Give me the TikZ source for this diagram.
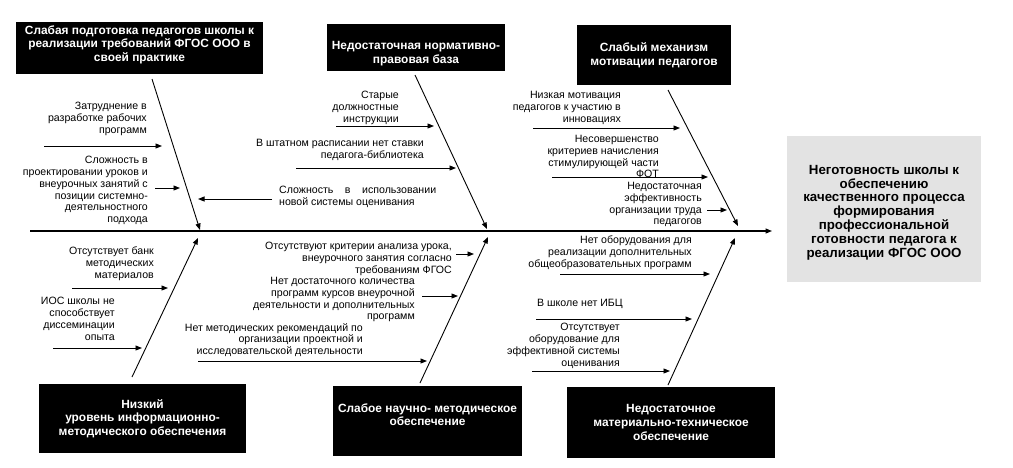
\documentclass[tikz,border=0pt]{standalone}
\usepackage{fontspec}
\setmainfont{Liberation Sans}
\usetikzlibrary{arrows.meta}
\begin{document}
\begin{tikzpicture}[x=1pt,y=-1pt,
  causebox/.style={fill=black,text=white,font=\fontsize{11.9}{13.6}\selectfont\bfseries,align=center,inner sep=0pt},
  effectbox/.style={fill=gray!22,text=black,font=\fontsize{13.3}{13.8}\selectfont\bfseries,align=center,inner sep=0pt,minimum width=194pt,minimum height=146pt},
  lbl/.style={font=\fontsize{10.6}{11.8}\selectfont,align=right,inner sep=0pt,anchor=north east},
  lbll/.style={font=\fontsize{10.6}{11.8}\selectfont,align=left,inner sep=0pt,anchor=north west},
  tip/.style={-{Triangle[length=6.5pt,width=5pt]}},
  spine/.style={tip,line width=1.3pt},
  bone/.style={tip,line width=0.9pt},
  sub/.style={tip,line width=0.9pt}]
\useasboundingbox (0,0) rectangle (1013,467);

% cause boxes
\node[causebox,minimum width=247pt,minimum height=52pt] (tl) at (139.5,48) {Слабая подготовка педагогов школы к\\реализации требований ФГОС ООО в\\своей практике\rule[-9pt]{0pt}{1pt}};
\node[causebox,minimum width=178pt,minimum height=47pt] (tm) at (416,47.5) {\rule{0pt}{21pt}Недостаточная нормативно-\\правовая база};
\node[causebox,minimum width=154pt,minimum height=60pt] (tr) at (654,55) {Слабый механизм\\мотивации педагогов};
\node[causebox,minimum width=207pt,minimum height=69pt] (bl) at (142.5,418.5) {Низкий\\уровень информационно-\\методического обеспечения};
\node[causebox,minimum width=189pt,minimum height=70pt] (bm) at (427.5,421) {Слабое научно- методическое\\обеспечение\rule[-13pt]{0pt}{1pt}};
\node[causebox,minimum width=208pt,minimum height=71pt] (br) at (671,422.5) {Недостаточное\\материально-техническое\\обеспечение};
\node[effectbox] (eff) at (884,209) {\rule{0pt}{16pt}Неготовность школы к\\обеспечению\\качественного процесса\\формирования\\профессиональной\\готовности педагога к\\реализации ФГОС ООО};

% spine
\coordinate (s0) at (30,231);
\coordinate (s1) at (772,231);
\draw[spine] (s0) -- (s1);

% bones
\coordinate (tlA) at (152,79);  \coordinate (tlB) at (200,230);
\coordinate (tmA) at (415,75);  \coordinate (tmB) at (487,229);
\coordinate (trA) at (668,90);  \coordinate (trB) at (738,226);
\coordinate (blA) at (132,377); \coordinate (blB) at (198,238);
\coordinate (bmA) at (420,383); \coordinate (bmB) at (488,237);
\coordinate (brA) at (668,385); \coordinate (brB) at (735,238);
\foreach \b in {tl,tm,tr,bl,bm,br} \draw[bone] (\b A) -- (\b B);

% labels
\node[lbl] (l1) at (147,102) {Затруднение в\\разработке рабочих\\программ};
\node[lbl] (l2) at (148,156) {Сложность в\\проектировании уроков и\\внеурочных занятий с\\позиции системно-\\деятельностного\\подхода};
\node[lbll] (l3) at (279,186) {\makebox[157pt][s]{Сложность в использовании}\\новой системы оценивания};
\node[lbl] (l4) at (399,91) {Старые\\должностные\\инструкции};
\node[lbl] (l5) at (424,139) {В штатном расписании нет ставки\\педагога-библиотека};
\node[lbl] (l6) at (621,91) {Низкая мотивация\\педагогов к участию в\\инновациях};
\node[lbl] (l7) at (659,135) {Несовершенство\\критериев начисления\\стимулирующей части\\ФОТ};
\node[lbl] (l8) at (702,182) {Недостаточная\\эффективность\\организации труда\\педагогов};
\node[lbl] (l9) at (154,247) {Отсутствует банк\\методических\\материалов};
\node[lbl] (l10) at (115,297) {ИОС школы не\\способствует\\диссеминации\\опыта};
\node[lbl] (l11) at (452,242) {Отсутствуют критерии анализа урока,\\внеурочного занятия согласно\\требованиям ФГОС};
\node[lbl] (l12) at (415,277) {Нет достаточного количества\\программ курсов внеурочной\\деятельности и дополнительных\\программ};
\node[lbl] (l13) at (363,323) {Нет методических рекомендаций по\\организации проектной и\\исследовательской деятельности};
\node[lbl] (l14) at (692,236) {Нет оборудования для\\реализации дополнительных\\общеобразовательных программ};
\node[lbll] (l15) at (537,299) {В школе нет ИБЦ};
\node[lbl] (l16) at (620,323) {Отсутствует\\оборудование для\\эффективной системы\\оценивания};

% sub arrows
\coordinate (a1) at (44,146);  \coordinate (b1) at (162,146);
\coordinate (a2) at (155,188); \coordinate (b2) at (180,188);
\coordinate (a3) at (272,199); \coordinate (b3) at (198,199);
\coordinate (a4) at (336,126); \coordinate (b4) at (434,126);
\coordinate (a5) at (296,168); \coordinate (b5) at (456,168);
\coordinate (a6) at (533,128); \coordinate (b6) at (680,128);
\coordinate (a7) at (552,177); \coordinate (b7) at (708,177);
\coordinate (a8) at (707,210); \coordinate (b8) at (727,210);
\coordinate (a9) at (72,288);  \coordinate (b9) at (168,288);
\coordinate (a10) at (53,348); \coordinate (b10) at (142,348);
\coordinate (a11) at (456,254); \coordinate (b11) at (474,254);
\coordinate (a12) at (422,296); \coordinate (b12) at (458,296);
\coordinate (a13) at (198,361); \coordinate (b13) at (427,361);
\coordinate (a14) at (560,274); \coordinate (b14) at (710,274);
\coordinate (a15) at (536,319); \coordinate (b15) at (692,319);
\coordinate (a16) at (532,371); \coordinate (b16) at (670,371);
\foreach \i in {1,...,16} \draw[sub] (a\i) -- (b\i);
\end{tikzpicture}
\end{document}
